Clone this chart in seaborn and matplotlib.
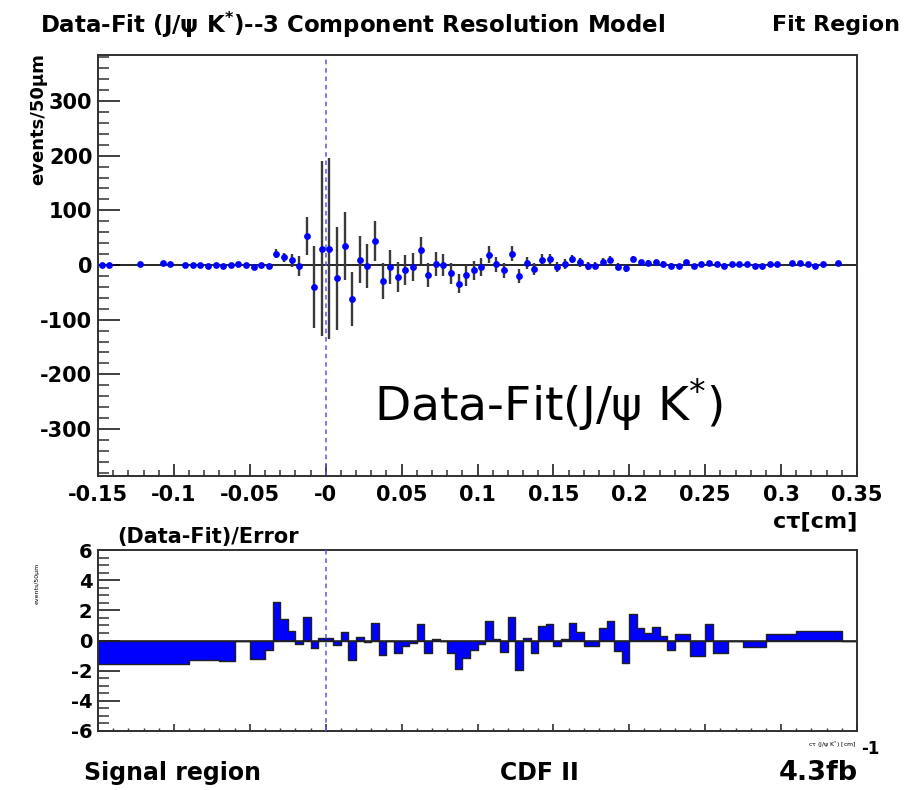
import numpy as np
import pandas as pd
import matplotlib
matplotlib.use('Agg')
import matplotlib.pyplot as plt
import seaborn as sns
from matplotlib.ticker import MultipleLocator, FixedLocator, FixedFormatter

sns.set_style('white')
plt.rcParams['font.family'] = ['DejaVu Sans']
plt.rcParams['mathtext.fontset'] = 'dejavusans'
plt.rcParams['mathtext.default'] = 'regular'
plt.rcParams['axes.unicode_minus'] = False
plt.rcParams['text.color'] = 'black'
plt.rcParams['xtick.labelcolor'] = 'black'
plt.rcParams['ytick.labelcolor'] = 'black'

# ---------------- data: top panel (Data - Fit per 50 um bin) ----------------
ctau = [-0.1475, -0.1425, -0.1225, -0.1075, -0.1025,
        -0.0925, -0.0875, -0.0825, -0.0775, -0.0725, -0.0675, -0.0625, -0.0575,
        -0.0525, -0.0475, -0.0425, -0.0375,
        -0.0325, -0.0275, -0.0225, -0.0175, -0.0125, -0.0075, -0.0025, 0.0025,
        0.0075, 0.0125, 0.0175, 0.0225,
        0.0275, 0.0325, 0.0375, 0.0425, 0.0475, 0.0525, 0.0575, 0.0625,
        0.0675, 0.0725, 0.0775, 0.0825,
        0.0875, 0.0925, 0.0975, 0.1025, 0.1075, 0.1125, 0.1175, 0.1225,
        0.1275, 0.1325, 0.1375, 0.1425,
        0.1475, 0.1525, 0.1575, 0.1625, 0.1675, 0.1725, 0.1775, 0.1825,
        0.1875, 0.1925, 0.1975, 0.2025,
        0.2075, 0.2125, 0.2175, 0.2225, 0.2275, 0.2325, 0.2375, 0.2425,
        0.2475, 0.2525, 0.2575, 0.2625,
        0.2675, 0.2725, 0.2775, 0.2825, 0.2875, 0.2925, 0.2975,
        0.3075, 0.3125, 0.3175, 0.3225, 0.3275, 0.3375]
resid = [0, 0, 2, 4, 1,
         0, 0, 0, -2, 0, -2, 0, 1, 0, -4, 0, -2,
         21, 14, 9, -2, 53, -41, 30, 30, -24, 35, -62, 10,
         -2, 44, -29, -3, -22, -9, -4, 27, -19, 2, 0, -15,
         -34, -19, -10, -4, 19, 1, -10, 21, -20, 3, -8, 10,
         11, -3, 2, 11, 5, -2, -1, 6, 10, -3, -6, 11,
         5, 4, 5, 2, -1, -2, 6, -2, 1, 4, 1, -1,
         1, 1, 2, -1, -1, 1, 2,
         4, 3, 1, -1, 1, 3]
resid_err = [2, 2, 2, 2, 2,
             2, 2, 2, 2, 2, 2, 2, 2, 2, 3, 3, 3,
             8, 8, 12, 18, 35, 75, 160, 166, 94, 62, 49, 43,
             40, 37, 33, 31, 28, 27, 26, 25, 22, 22, 20, 19,
             17, 19, 17, 17, 16, 14, 14, 13, 13, 11, 11, 10,
             10, 9, 9, 8, 8, 7, 7, 7, 6, 6, 6, 6,
             5, 5, 5, 5, 5, 4, 4, 4, 4, 4, 4, 4,
             3, 3, 3, 3, 3, 3, 3,
             3, 3, 3, 3, 3, 3]

# ---------------- data: bottom panel ((Data-Fit)/Error, variable bins) ----------------
pull_edges = [-0.15, -0.09, -0.07, -0.06, -0.05,
              -0.04, -0.035, -0.03, -0.025, -0.02, -0.015, -0.01, -0.005, 0.0,
              0.005, 0.01, 0.015, 0.02, 0.025, 0.03, 0.035, 0.04, 0.045, 0.05,
              0.055, 0.06, 0.065, 0.07, 0.075, 0.08, 0.085, 0.09, 0.095, 0.1,
              0.105, 0.11, 0.115, 0.12, 0.125, 0.13, 0.135, 0.14, 0.145, 0.15,
              0.155, 0.16, 0.165, 0.17, 0.175, 0.18, 0.185, 0.19, 0.195, 0.2,
              0.205, 0.21, 0.215, 0.22, 0.225, 0.23,
              0.24, 0.25, 0.255, 0.265, 0.275, 0.29, 0.31, 0.34, 0.35]
pull = [-1.53, -1.27, -1.33, 0.0, -1.20,
        -0.64, 2.57, 1.44, 0.66, -0.22, 1.55, -0.53, 0.18, 0.15, -0.27,
        0.58, -1.26, 0.22, -0.08, 1.17, -0.93, -0.05, -0.80, -0.38, -0.18,
        1.10, -0.86, 0.07, -0.05, -0.86, -1.92, -1.15, -0.64, -0.22, 1.28,
        0.13, -0.75, 1.55, -1.97, 0.18, -0.80, 0.95, 1.10, -0.38, 0.13,
        1.17, 0.58, -0.38, -0.38, 0.80, 1.28, -0.70, -1.48, 1.73, 0.84,
        0.50, 0.90, 0.29, -0.64,
        0.40, -1.04, 1.10, -0.82, 0.0, -0.42, 0.44, 0.66, 0.0]

xtick_vals = [-0.15, -0.1, -0.05, 0.0, 0.05, 0.1, 0.15, 0.2, 0.25, 0.3, 0.35]
xtick_text = ['-0.15', '-0.1', '-0.05', '-0', '0.05', '0.1', '0.15', '0.2', '0.25', '0.3', '0.35']
ytick_top = [-300, -200, -100, 0, 100, 200, 300]
ytick_top_text = ['-300', '-200', '-100', '0', '100', '200', '300']
ytick_bot = [-6, -4, -2, 0, 2, 4, 6]
ytick_bot_text = ['-6', '-4', '-2', '0', '2', '4', '6']

df_top = pd.DataFrame({'ctau': ctau, 'resid': resid, 'err': resid_err})
edges = np.array(pull_edges)
df_bot = pd.DataFrame({'center': 0.5 * (edges[:-1] + edges[1:]), 'pull': pull})

W, H = 908, 790
fig = plt.figure(figsize=(W / 100, H / 100), dpi=100)
fig.patch.set_facecolor('white')

def frac_box(l, t, r, b):
    return [l / W, 1 - b / H, (r - l) / W, (b - t) / H]

ax1 = fig.add_axes(frac_box(98, 54.5, 857, 475.5))
ax2 = fig.add_axes(frac_box(98, 550, 857, 731))

FRAME = '#303030'
for ax in (ax1, ax2):
    ax.set_facecolor('white')
    for sp in ax.spines.values():
        sp.set_color(FRAME)
        sp.set_linewidth(1.4)
    ax.set_xlim(-0.15, 0.35)

# ---- top panel
ax1.axhline(0, color='black', lw=1.2, zorder=1)
ax1.axvline(0, color='#5555ff', lw=1.1, ls=(0, (3, 2.5)), zorder=1)
ax1.errorbar(df_top['ctau'], df_top['resid'], yerr=df_top['err'], fmt='none',
             ecolor='#3a3a3a', elinewidth=1.7, capsize=0, zorder=2)
sns.scatterplot(data=df_top, x='ctau', y='resid', ax=ax1, color='#0000ff',
                s=24, linewidth=0, zorder=3, legend=False)
ax1.set_ylim(-385, 385)
ax1.set_xlabel('')
ax1.set_ylabel('')
ax1.yaxis.set_major_locator(FixedLocator(ytick_top))
ax1.yaxis.set_major_formatter(FixedFormatter(ytick_top_text))
ax1.yaxis.set_minor_locator(MultipleLocator(20))
ax1.xaxis.set_major_locator(FixedLocator(xtick_vals))
ax1.xaxis.set_major_formatter(FixedFormatter(xtick_text))
ax1.xaxis.set_minor_locator(MultipleLocator(0.01))
ax1.tick_params(axis='y', which='major', direction='in', length=15.8, width=1.3,
                color=FRAME, labelsize=15, pad=4, left=True, right=False)
ax1.tick_params(axis='y', which='minor', direction='in', length=7.9, width=1.1,
                color=FRAME, left=True, right=False)
ax1.tick_params(axis='x', which='major', direction='in', length=9, width=1.3,
                color=FRAME, labelsize=15, pad=7, bottom=True, top=False)
ax1.tick_params(axis='x', which='minor', direction='in', length=4.5, width=1.1,
                color=FRAME, bottom=True, top=False)
for lab in ax1.get_xticklabels() + ax1.get_yticklabels():
    lab.set_fontweight('bold')

# ---- bottom panel
ax2.axvline(0, color='#5555ff', lw=1.1, ls=(0, (3, 2.5)), zorder=3)
sns.histplot(data=df_bot, x='center', weights='pull', bins=pull_edges,
             element='step', fill=True, color='#0000ff', alpha=1.0,
             edgecolor='#202020', linewidth=1.0, ax=ax2, zorder=2)
ax2.axhline(0, color='#202020', lw=1.1, zorder=2.5)
ax2.set_ylim(-6, 6)
ax2.set_xlim(-0.15, 0.35)
ax2.set_xlabel('')
ax2.set_ylabel('')
ax2.yaxis.set_major_locator(FixedLocator(ytick_bot))
ax2.yaxis.set_major_formatter(FixedFormatter(ytick_bot_text))
ax2.yaxis.set_minor_locator(MultipleLocator(0.5))
ax2.xaxis.set_major_locator(FixedLocator(xtick_vals))
ax2.xaxis.set_minor_locator(MultipleLocator(0.01))
ax2.tick_params(axis='y', which='major', direction='in', length=16, width=1.3,
                color=FRAME, labelsize=14, pad=4, left=True, right=False)
ax2.tick_params(axis='y', which='minor', direction='in', length=8, width=1.1,
                color=FRAME, left=True, right=False)
ax2.tick_params(axis='x', which='major', direction='in', length=5, width=1.2,
                color=FRAME, labelbottom=False, bottom=True, top=False)
ax2.tick_params(axis='x', which='minor', direction='in', length=2.5, width=1.0,
                color=FRAME, bottom=True, top=False)
for lab in ax2.get_yticklabels():
    lab.set_fontweight('bold')

# ---- texts
def ft(x, y, s, **kw):
    return fig.text(x / W, 1 - y / H, s, **kw)

ft(40, 25, 'Data-Fit (J/ψ K$^{*}$)--3 Component Resolution Model',
   fontsize=16.5, fontweight='bold', ha='left', va='center')
ft(900, 25, 'Fit Region', fontsize=16, fontweight='bold', ha='right', va='center')
ft(38, 53, 'events/50μm', fontsize=13, fontweight='bold', rotation=90,
   ha='center', va='top')
ft(857, 521, 'cτ[cm]', fontsize=16, fontweight='bold', ha='right', va='center')
ft(374, 405, 'Data-Fit(J/ψ K$^{*}$)', fontsize=34, ha='left', va='center')
ft(117, 537, '(Data-Fit)/Error', fontsize=15, fontweight='bold', ha='left', va='center')
ft(37, 583, 'events/50μm', fontsize=4.5, rotation=90, ha='center', va='center')
ft(857, 745, 'cτ (J/ψ K$^{*}$) [cm]', fontsize=4.5, ha='right', va='center')
ft(84, 773, 'Signal region', fontsize=17, fontweight='bold', ha='left', va='center')
ft(500, 773, 'CDF II', fontsize=17, fontweight='bold', ha='left', va='center')
ft(779, 773, '4.3fb', fontsize=19.5, fontweight='bold', ha='left', va='center')
ft(861, 749, '-1', fontsize=12, fontweight='bold', ha='left', va='center')

fig.savefig('out.png', dpi=100, facecolor='white')
